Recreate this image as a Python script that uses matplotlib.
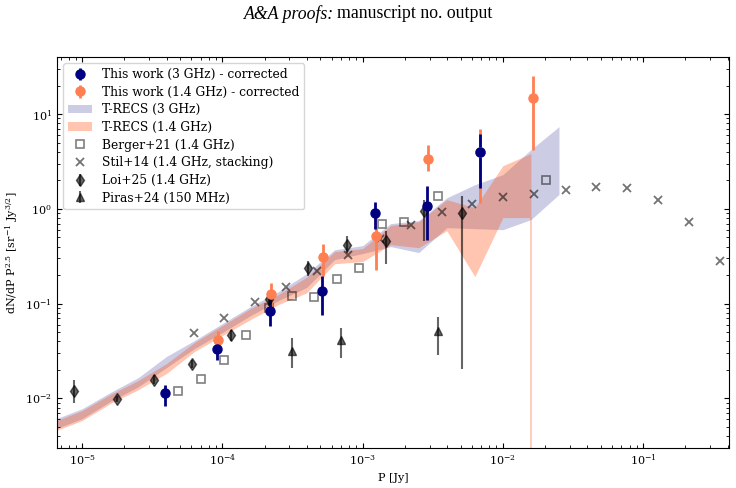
import numpy as np
from matplotlib import pyplot as plt

plt.rcParams['font.family'] = ['DejaVu Serif']
plt.rcParams['mathtext.fontset'] = 'dejavuserif'
plt.rcParams['xtick.direction'] = 'in'
plt.rcParams['ytick.direction'] = 'in'
plt.rcParams['xtick.top'] = True
plt.rcParams['ytick.right'] = True
plt.rcParams['font.size'] = 8

# This work, 3 GHz (corrected)
p_3 = [3.9e-5, 9.2e-5, 2.19e-4, 5.14e-4, 1.22e-3, 2.88e-3, 6.87e-3]
n_3 = [0.0113, 0.0336, 0.0845, 0.137, 0.91, 1.08, 3.99]
n_3_lo = [8.4e-3, 0.0253, 0.0587, 0.0767, 0.621, 0.466, 1.67]
n_3_hi = [0.0137, 0.0418, 0.1127, 0.198, 1.19, 1.73, 6.2]

# This work, 1.4 GHz (corrected)
p_14 = [9.35e-5, 2.21e-4, 5.24e-4, 1.24e-3, 2.92e-3, 6.87e-3, 1.64e-2]
n_14 = [0.0418, 0.125, 0.312, 0.514, 3.36, 3.99, 14.9]
n_14_lo = [0.034, 0.092, 0.194, 0.229, 2.49, 1.16, 4.15]
n_14_hi = [0.0512, 0.166, 0.43, 0.95, 4.75, 6.98, 25.2]

# T-RECS bands
trecs_logp_3 = [-5.2, -5.0, -4.8, -4.6, -4.4, -4.2, -4.0, -3.8, -3.6, -3.4,
                -3.2, -3.0, -2.8, -2.6, -2.4, -2.2, -2.0, -1.8, -1.6]
trecs_3_lo = [4.7e-3, 6.13e-3, 9.27e-3, 0.0133, 0.0211, 0.0336, 0.0496, 0.0748,
              0.108, 0.148, 0.292, 0.338, 0.40, 0.346, 0.634, 0.619, 0.604,
              0.771, 1.42]
trecs_3_hi = [6.0e-3, 7.8e-3, 0.01155, 0.0166, 0.0277, 0.0408, 0.0617, 0.0932,
              0.134, 0.207, 0.371, 0.41, 0.70, 0.752, 1.31, 1.80, 2.30,
              4.22, 7.38]
trecs_logp_14 = [-5.2, -5.0, -4.8, -4.6, -4.4, -4.2, -4.0, -3.8, -3.6, -3.4,
                 -3.2, -3.0, -2.8, -2.6, -2.4, -2.2, -2.0, -1.8]
trecs_14_lo = [4.5e-3, 5.85e-3, 8.83e-3, 0.0124, 0.0183, 0.0313, 0.0461, 0.068,
               0.098, 0.13, 0.264, 0.278, 0.42, 0.39, 0.589, 0.193, 0.81, 0.0]
trecs_14_hi = [5.7e-3, 7.45e-3, 0.011, 0.01545, 0.0233, 0.0389, 0.0588, 0.0887,
               0.125, 0.19, 0.354, 0.381, 0.667, 0.734, 1.25, 1.03, 2.86, 3.83]

# Berger+21 (1.4 GHz)
p_berger = [4.85e-5, 7.0e-5, 1.02e-4, 1.48e-4, 2.16e-4, 3.13e-4, 4.51e-4,
            6.53e-4, 9.48e-4, 1.37e-3, 1.97e-3, 3.47e-3, 2.03e-2]
n_berger = [0.0121, 0.0161, 0.0253, 0.0472, 0.0903, 0.12, 0.117, 0.183, 0.239,
            0.695, 0.73, 1.36, 2.04]

# Stil+14 (1.4 GHz, stacking)
p_stil = [6.28e-5, 1.03e-4, 1.71e-4, 2.84e-4, 4.75e-4, 7.9e-4, 1.33e-3, 2.2e-3,
          3.66e-3, 6.06e-3, 0.01007, 0.01675, 0.028, 0.0461, 0.077, 0.128,
          0.212, 0.352]
n_stil = [0.0492, 0.0708, 0.1035, 0.150, 0.223, 0.33, 0.486, 0.683, 0.92, 1.14,
          1.34, 1.45, 1.585, 1.71, 1.65, 1.23, 0.722, 0.283]

# Loi+25 (1.4 GHz)
p_loi = [8.8e-6, 1.77e-5, 3.26e-5, 6.1e-5, 1.15e-4, 2.16e-4, 4.1e-4, 7.7e-4,
         1.46e-3, 2.74e-3, 5.14e-3]
n_loi = [0.0119, 0.0099, 0.0158, 0.0232, 0.0472, 0.112, 0.239, 0.42, 0.455,
         0.944, 0.908]
n_loi_lo = [0.0089, 0.0092, 0.0142, 0.0209, 0.040, 0.094, 0.195, 0.343, 0.265,
            0.463, 0.0202]
n_loi_hi = [0.0156, 0.0107, 0.0177, 0.0256, 0.0533, 0.131, 0.28, 0.514, 0.59,
            1.25, 1.36]

# Piras+24 (150 MHz)
p_piras = [3.13e-4, 7.0e-4, 3.47e-3]
n_piras = [0.0315, 0.0418, 0.0512]
n_piras_lo = [0.0212, 0.027, 0.0285]
n_piras_hi = [0.0439, 0.0558, 0.0731]


def yerr(n, lo, hi):
    n = np.array(n)
    return [n - np.array(lo), np.array(hi) - n]


fig = plt.figure(figsize=(7.36, 4.88), dpi=100)
ax = fig.add_axes([0.0774, 0.082, 0.9131, 0.801])

fig.text(0.4535, 0.972, 'A&A proofs:', family='Liberation Serif', style='italic',
         fontsize=12.8, ha='right', va='center')
fig.text(0.4575, 0.972, 'manuscript no. output', family='Liberation Serif',
         fontsize=12.8, ha='left', va='center')

# T-RECS 3 GHz band
ax.fill_between(10 ** np.array(trecs_logp_3), trecs_3_lo, trecs_3_hi,
                color='navy', alpha=0.2, lw=0, label='T-RECS (3 GHz)')

# T-RECS 1.4 GHz band; a bin whose lower bound is zero shows up as a spike
x14 = 10 ** np.array(trecs_logp_14)
lo14 = np.array(trecs_14_lo)
hi14 = np.array(trecs_14_hi)
zero = lo14 <= 0
lo14_fill = lo14.copy()
for i in np.where(zero)[0]:
    lo14_fill[i] = lo14[i - 1]
ax.fill_between(x14, lo14_fill, hi14, color='orangered', alpha=0.31, lw=0,
                label='T-RECS (1.4 GHz)')
ax.vlines(x14[zero], 1e-4, lo14_fill[zero], color='orangered', alpha=0.31,
          lw=1.2)

ax.plot(p_berger, n_berger, 's', mfc='none', mec='k', alpha=0.5, ms=6,
        mew=1.2, label='Berger+21 (1.4 GHz)')
ax.plot(p_stil, n_stil, 'x', color='k', alpha=0.55, ms=6, mew=1.3,
        label='Stil+14 (1.4 GHz, stacking)')
ax.errorbar(p_loi, n_loi, yerr=yerr(n_loi, n_loi_lo, n_loi_hi), fmt='d',
            color='k', alpha=0.6, ms=6, elinewidth=1.5, capsize=0,
            label='Loi+25 (1.4 GHz)')
ax.errorbar(p_piras, n_piras, yerr=yerr(n_piras, n_piras_lo, n_piras_hi),
            fmt='^', color='k', alpha=0.6, ms=6, elinewidth=1.5, capsize=0,
            label='Piras+24 (150 MHz)')

ax.errorbar(p_14, n_14, yerr=yerr(n_14, n_14_lo, n_14_hi), fmt='o',
            color='coral', ms=6.5, elinewidth=2, capsize=0,
            label='This work (1.4 GHz) - corrected')
ax.errorbar(p_3, n_3, yerr=yerr(n_3, n_3_lo, n_3_hi), fmt='o',
            color='navy', ms=6.5, elinewidth=2, capsize=0,
            label='This work (3 GHz) - corrected')

ax.set_xscale('log')
ax.set_yscale('log')
ax.set_xlim(6.6e-6, 0.41)
ax.set_ylim(3.0e-3, 40)
ax.set_xlabel('P [Jy]')
ax.set_ylabel(r'dN/dP P$^{2.5}$ [sr$^{-1}$ Jy$^{3/2}$]')

handles, labels = ax.get_legend_handles_labels()
order = ['This work (3 GHz) - corrected', 'This work (1.4 GHz) - corrected',
         'T-RECS (3 GHz)', 'T-RECS (1.4 GHz)', 'Berger+21 (1.4 GHz)',
         'Stil+14 (1.4 GHz, stacking)', 'Loi+25 (1.4 GHz)', 'Piras+24 (150 MHz)']
hmap = dict(zip(labels, handles))
ax.legend([hmap[k] for k in order], order, loc='upper left', fontsize=8.8,
          labelspacing=0.38)

fig.savefig('out.png', dpi=100)
